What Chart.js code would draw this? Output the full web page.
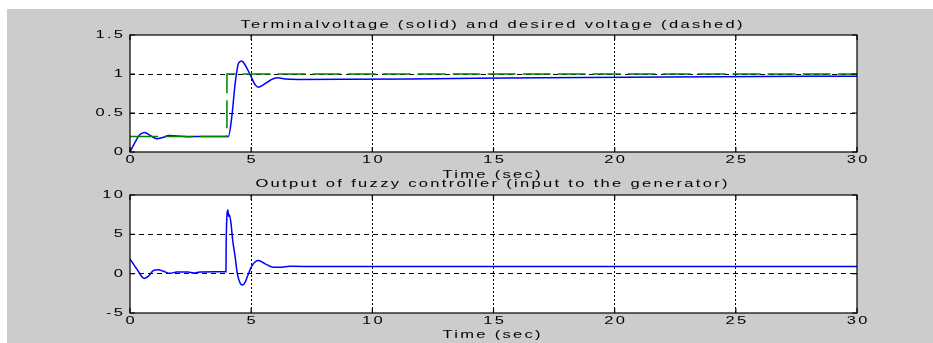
<!DOCTYPE html>
<html>
<head>
<meta charset="utf-8">
<script src="https://cdn.jsdelivr.net/npm/chart.js@4.4.0/dist/chart.umd.min.js"></script>
<style>
  html, body { margin: 0; padding: 0; background: #fff; }
  #fig { position: absolute; left: 7px; top: 9px; width: 926px; height: 334px; background: #cccccc; }
  canvas { position: absolute; left: 0; }
  #top { top: 0; }
  #bottom { top: 170px; }
</style>
</head>
<body>
<div id="fig"></div>
<canvas id="top" width="933" height="182"></canvas>
<canvas id="bottom" width="933" height="173"></canvas>
<script>
// terminal voltage (solid blue)
const voltTime   = [0, 0.2, 0.4, 0.6, 0.85, 1.1, 1.35, 1.6, 1.9, 2.4, 3, 3.6, 4.06, 4.2, 4.34, 4.48, 4.61, 4.75, 4.96, 5.17, 5.3, 5.5, 5.79, 6.06, 6.47, 7, 9, 11.6, 17, 24, 30];
const voltValues = [0, 0.12, 0.22, 0.25, 0.21, 0.17, 0.185, 0.21, 0.205, 0.196, 0.2, 0.2, 0.2, 0.45, 0.88, 1.14, 1.167, 1.115, 0.99, 0.86, 0.83, 0.86, 0.92, 0.953, 0.935, 0.93, 0.932, 0.937, 0.952, 0.965, 0.972];

// desired voltage (dashed green)
const refTime   = [0, 4, 4, 30];
const refValues = [0.2, 0.2, 1, 1];

// fuzzy controller output
const uTime   = [0, 0.28, 0.59, 0.75, 0.96, 1.17, 1.38, 1.65, 1.93, 2.4, 2.62, 2.89, 3.5, 3.96, 3.97, 4.04, 4.07, 4.1, 4.16, 4.24, 4.34, 4.43, 4.55, 4.64, 4.75, 4.89, 5.03, 5.3, 5.58, 5.92, 6.2, 6.6, 8, 30];
const uValues = [1.88, 0.6, -0.6, -0.35, 0.38, 0.51, 0.3, 0.04, 0.22, 0.22, 0.09, 0.22, 0.25, 0.25, 4.2, 8.1, 7.3, 7.5, 6.6, 4.2, 2.1, 0, -1.24, -1.45, -1.1, 0, 1.0, 1.67, 1.24, 0.8, 0.8, 0.95, 0.9, 0.9];

const xTicks = [0, 30, 5];
const topY = [0, 1.5, 0.5];
const bottomY = [-5, 10, 5];

const FONT = '11px "Liberation Sans", Arial, sans-serif';
const STRETCH = 1.5, SPACING = 1.55;

function toPoints(xs, ys) {
    return xs.map((x, i) => ({ x: x, y: ys[i] }));
}

// old matlab-ish wide lettering
function wideText(ctx, str, x, y, align) {
    ctx.save();
    ctx.font = FONT;
    ctx.fillStyle = '#000';
    ctx.textBaseline = 'middle';
    ctx.textAlign = 'left';
    const w = (ctx.measureText(str).width + (str.length - 1) * SPACING) * STRETCH;
    const x0 = align === 'center' ? x - w / 2 : align === 'right' ? x - w : x;
    ctx.translate(x0, y);
    ctx.scale(STRETCH, 1);
    ctx.letterSpacing = SPACING + 'px';
    ctx.fillText(str, 0, 0);
    ctx.restore();
}

const figPlugin = {
    id: 'fig',
    beforeDraw(chart) {
        const { ctx, chartArea: a } = chart;
        ctx.save();
        ctx.fillStyle = '#fff';
        ctx.fillRect(a.left, a.top, a.right - a.left, a.bottom - a.top);
        ctx.restore();
    },
    afterDraw(chart, args, opts) {
        const { ctx, chartArea: a, scales: { x, y } } = chart;
        ctx.save();
        ctx.strokeStyle = '#000';
        ctx.lineWidth = 1.2;
        ctx.strokeRect(a.left, a.top, a.right - a.left, a.bottom - a.top);
        ctx.beginPath();
        x.ticks.forEach(t => {
            const px = x.getPixelForValue(t.value);
            ctx.moveTo(px, a.bottom); ctx.lineTo(px, a.bottom - 5);
            ctx.moveTo(px, a.top); ctx.lineTo(px, a.top + 5);
        });
        y.ticks.forEach(t => {
            const py = y.getPixelForValue(t.value);
            ctx.moveTo(a.left, py); ctx.lineTo(a.left + 5, py);
            ctx.moveTo(a.right, py); ctx.lineTo(a.right - 5, py);
        });
        ctx.stroke();
        ctx.restore();

        x.ticks.forEach(t => wideText(ctx, String(t.value), x.getPixelForValue(t.value), a.bottom + 8, 'center'));
        y.ticks.forEach(t => wideText(ctx, String(t.value), a.left - 7, y.getPixelForValue(t.value), 'right'));
        const cx = (a.left + a.right) / 2 - 2;
        wideText(ctx, opts.title, cx, opts.titleY, 'center');
        wideText(ctx, 'Time (sec)', cx, opts.xTitleY, 'center');
    }
};

function edgeColor(min, max) {
    return c => (c.tick && (c.tick.value === min || c.tick.value === max)) ? 'rgba(0,0,0,0)' : '#000';
}

function makePanel(id, datasets, yRange, pad, text) {
    return new Chart(document.getElementById(id), {
        type: 'line',
        data: { datasets: datasets },
        options: {
            responsive: false,
            animation: false,
            layout: { padding: pad },
            plugins: { legend: { display: false }, tooltip: { enabled: false }, fig: text },
            elements: { point: { radius: 0 } },
            scales: {
                x: {
                    type: 'linear', min: xTicks[0], max: xTicks[1],
                    ticks: { display: false, stepSize: xTicks[2] },
                    grid: { color: edgeColor(xTicks[0], xTicks[1]), lineWidth: 1, drawTicks: false },
                    border: { display: false, dash: [2, 2] },
                    afterFit: s => { s.height = 0; }
                },
                y: {
                    min: yRange[0], max: yRange[1],
                    ticks: { display: false, stepSize: yRange[2] },
                    grid: { color: edgeColor(yRange[0], yRange[1]), lineWidth: 1, drawTicks: false },
                    border: { display: false, dash: [5, 4] },
                    afterFit: s => { s.width = 0; }
                }
            }
        },
        plugins: [figPlugin]
    });
}

makePanel('top', [
    {
        data: toPoints(refTime, refValues),
        borderColor: '#008000', borderWidth: 1.5, borderDash: [28, 7], tension: 0
    },
    {
        data: toPoints(voltTime, voltValues),
        borderColor: '#0000ff', borderWidth: 1.5, cubicInterpolationMode: 'monotone'
    }
], topY, { left: 130, right: 76, top: 35, bottom: 30 },
   { title: 'Terminalvoltage (solid) and desired voltage (dashed)', titleY: 25, xTitleY: 174.5 });

makePanel('bottom', [
    {
        data: toPoints(uTime, uValues),
        borderColor: '#0000ff', borderWidth: 1.5, cubicInterpolationMode: 'monotone'
    }
], bottomY, { left: 130, right: 76, top: 25, bottom: 30 },
   { title: 'Output of fuzzy controller (input to the generator)', titleY: 14, xTitleY: 165 });
</script>
</body>
</html>
